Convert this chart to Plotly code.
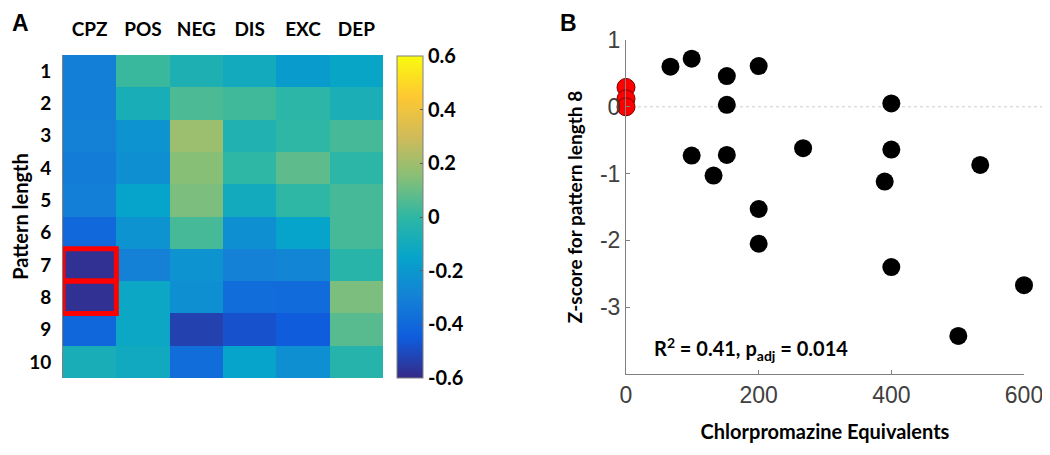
import plotly.graph_objects as go

# ---------------- data ----------------
measures = ["CPZ", "POS", "NEG", "DIS", "EXC", "DEP"]
pattern_lengths = [1, 2, 3, 4, 5, 6, 7, 8, 9, 10]
# correlation values per measure (rows = pattern length 1..10)
cpz = [-0.31, -0.31, -0.30, -0.32, -0.31, -0.40, -0.58, -0.58, -0.41, -0.08]
pos = [0.02, -0.08, -0.22, -0.24, -0.15, -0.22, -0.30, -0.13, -0.13, -0.11]
neg = [-0.06, 0.05, 0.19, 0.15, 0.13, 0.04, -0.22, -0.24, -0.53, -0.38]
dis = [-0.10, 0.03, -0.05, 0.00, -0.10, -0.24, -0.30, -0.38, -0.48, -0.15]
exc = [-0.19, -0.01, 0.00, 0.08, 0.00, -0.15, -0.28, -0.39, -0.45, -0.24]
dep = [-0.14, -0.07, 0.04, -0.01, 0.04, 0.04, -0.02, 0.13, 0.07, -0.03]
highlighted = [("CPZ", 7), ("CPZ", 8)]

cbar_ticks = [-0.6, -0.4, -0.2, 0, 0.2, 0.4, 0.6]
cbar_text = ["-0.6", "-0.4", "-0.2", "0", "0.2", "0.4", "0.6"]

# scatter: chlorpromazine equivalents vs z-score (pattern length 8)
cpz_eq_black = [67, 99, 152, 200, 152, 400, 99, 152, 267, 400, 534, 132, 390, 200, 200, 400, 600, 501]
zscore_black = [0.60, 0.72, 0.46, 0.61, 0.03, 0.05, -0.73, -0.72, -0.62, -0.64, -0.87, -1.03, -1.12, -1.53, -2.05, -2.40, -2.67, -3.43]
cpz_eq_red = [0, 0, 0]
zscore_red = [0.29, 0.12, 0.0]
x_ticks = [0, 200, 400, 600]
y_ticks = [-3, -2, -1, 0, 1]
y_ticktext = ["-3", "-2", "-1", "0", "1"]

W, H = 1050, 455
OFF = 8  # page body margin offset
def px_x(v): return (v - OFF) / W
def px_y(v): return 1 - (v - OFF) / H

parula = [
    [0.0, "#352a87"], [0.125, "#0f5cdd"], [0.25, "#1481d6"], [0.375, "#06a4ca"],
    [0.5, "#2eb7a4"], [0.625, "#87bf77"], [0.75, "#d1bb59"], [0.875, "#fec832"],
    [1.0, "#f9fb0e"],
]

z = [[cpz[i], pos[i], neg[i], dis[i], exc[i], dep[i]] for i in range(len(pattern_lengths))]

BOLD = "Lato"
fig = go.Figure()

fig.add_trace(go.Heatmap(
    z=z, x=list(range(len(measures))), y=pattern_lengths,
    colorscale=parula, zmin=-0.6, zmax=0.6,
    xaxis="x", yaxis="y", showscale=True,
    colorbar=dict(
        x=px_x(397), xanchor="left", xref="paper", xpad=0, ypad=0,
        y=px_y(378), yanchor="bottom", len=(378 - 56) / H, lenmode="fraction",
        thickness=26, outlinecolor="#808080", outlinewidth=1,
        tickvals=cbar_ticks, ticktext=cbar_text, ticks="inside", ticklen=3,
        tickcolor="#555", tickfont=dict(family=BOLD, size=20, color="black", weight="bold"),
    ),
    hoverinfo="skip",
))

fig.add_trace(go.Scatter(
    x=cpz_eq_black, y=zscore_black, mode="markers", xaxis="x2", yaxis="y2",
    marker=dict(size=18, color="black"), cliponaxis=False, showlegend=False,
))
fig.add_trace(go.Scatter(
    x=cpz_eq_red, y=zscore_red, mode="markers", xaxis="x2", yaxis="y2",
    marker=dict(size=18, color="#ff0000", line=dict(color="#7a0000", width=1)),
    cliponaxis=False, showlegend=False,
))

shapes = []
for m, r in highlighted:
    c = measures.index(m)
    shapes.append(dict(type="rect", xref="x", yref="y", x0=c - 0.5, x1=c + 0.5,
                       y0=r - 0.5, y1=r + 0.5, line=dict(color="#ff0000", width=5)))
shapes.append(dict(type="line", xref="paper", yref="y2", x0=px_x(626), x1=1.0, y0=0, y1=0,
                   line=dict(color="#cccccc", width=1, dash="dot"), layer="below"))

fig.update_layout(
    width=W, height=H, margin=dict(l=0, r=0, t=0, b=0, autoexpand=False),
    paper_bgcolor="white", plot_bgcolor="white", showlegend=False,
    shapes=shapes,
    xaxis=dict(domain=[px_x(63), px_x(383)], anchor="y", side="top", automargin=False,
               tickvals=list(range(len(measures))), ticktext=measures,
               range=[-0.5, len(measures) - 0.5], showgrid=False, zeroline=False,
               ticks="", ticklabelstandoff=14,
               tickfont=dict(family=BOLD, size=19, color="black", weight="bold"),
               showline=False),
    yaxis=dict(domain=[px_y(378), px_y(55)], anchor="x", autorange=False, automargin=False,
               range=[10.5, 0.5], tickvals=pattern_lengths, showgrid=False, zeroline=False,
               ticks="", ticklabelstandoff=7,
               tickfont=dict(family=BOLD, size=19, color="black", weight="bold"),
               showline=True, linecolor="#808080", linewidth=1,
               title=dict(text="Pattern length", standoff=12,
                          font=dict(family=BOLD, size=20, color="black", weight="bold"))),
    xaxis2=dict(domain=[px_x(626), px_x(1024)], anchor="y2", range=[0, 600], automargin=False,
                tickvals=x_ticks, showgrid=False, zeroline=False,
                ticks="inside", ticklen=4, tickcolor="#808080",
                showline=True, linecolor="#808080", linewidth=1,
                tickfont=dict(family="Liberation Sans", size=23, color="#404040"),
                title=dict(text="Chlorpromazine Equivalents", standoff=18,
                           font=dict(family=BOLD, size=20, color="black", weight="bold"))),
    yaxis2=dict(domain=[px_y(374), px_y(40)], anchor="x2", range=[-4, 1], automargin=False,
                tickvals=y_ticks, ticktext=y_ticktext, showgrid=False, zeroline=False,
                ticks="inside", ticklen=4, tickcolor="#808080",
                showline=True, linecolor="#808080", linewidth=1,
                tickfont=dict(family="Liberation Sans", size=23, color="#404040"),
                title=dict(text="Z-score for pattern length 8", standoff=12,
                           font=dict(family=BOLD, size=19, color="black", weight="bold"))),
    annotations=[
        dict(text="A", x=px_x(10), y=px_y(8), xref="paper", yref="paper",
             xanchor="left", yanchor="top", showarrow=False,
             font=dict(family="Liberation Sans", size=23, color="black", weight="bold")),
        dict(text="B", x=px_x(558), y=px_y(8), xref="paper", yref="paper",
             xanchor="left", yanchor="top", showarrow=False,
             font=dict(family="Liberation Sans", size=23, color="black", weight="bold")),
        dict(text="R<sup>2</sup> = 0.41, p<sub>adj</sub> = 0.014", x=39, y=-3.62,
             xref="x2", yref="y2", xanchor="left", yanchor="middle", showarrow=False,
             font=dict(family=BOLD, size=20, color="black", weight="bold")),
    ],
)

fig.write_html("out.html")
